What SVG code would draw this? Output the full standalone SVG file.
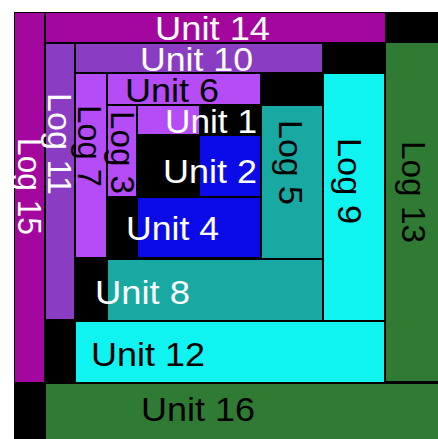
<svg xmlns="http://www.w3.org/2000/svg" width="438" height="439" viewBox="0 0 438 439">
<style>
text{font-family:"Liberation Sans",Arial,sans-serif;font-size:33px;lengthAdjust:spacingAndGlyphs}
.w{fill:#ffffff}.k{fill:#000000}
.mag{fill:#a4079e}.pur{fill:#8a3dc2}.lpu{fill:#b54cf7}.blu{fill:#0b0bea}.tea{fill:#17a9a2}.cya{fill:#0ff4f1}.gre{fill:#2f7b34}
</style>
<rect x="0" y="0" width="438" height="439" fill="#ffffff"/>
<rect x="14" y="12" width="424" height="427" fill="#000000"/>
<g id="log15"><rect class="mag" x="15" y="13" width="29" height="369"/><text class="w" transform="translate(18,0) rotate(90)" x="138" y="0" textLength="97" lengthAdjust="spacingAndGlyphs">Log 15</text></g>
<g id="unit14"><rect class="mag" x="46" y="13" width="339" height="29"/><text class="w" x="155" y="40" textLength="115" lengthAdjust="spacingAndGlyphs">Unit 14</text></g>
<g id="log13"><rect class="gre" x="386" y="43" width="52" height="338"/><text class="k" transform="translate(402,0) rotate(90)" x="141" y="0" textLength="102" lengthAdjust="spacingAndGlyphs">Log 13</text></g>
<g id="unit16"><rect class="gre" x="46" y="384" width="392" height="55"/><text class="k" x="141" y="421" textLength="114" lengthAdjust="spacingAndGlyphs">Unit 16</text></g>
<g id="log11"><rect class="pur" x="46" y="44" width="28" height="275"/><text class="w" transform="translate(48,0) rotate(90)" x="93" y="0" textLength="102" lengthAdjust="spacingAndGlyphs">Log 11</text></g>
<g id="unit10"><rect class="pur" x="76" y="44" width="246" height="28"/><text class="w" x="140" y="71" textLength="113" lengthAdjust="spacingAndGlyphs">Unit 10</text></g>
<g id="log9"><rect class="cya" x="324" y="74" width="60" height="246"/><text class="k" transform="translate(338,0) rotate(90)" x="138" y="0" textLength="86" lengthAdjust="spacingAndGlyphs">Log 9</text></g>
<g id="unit12"><rect class="cya" x="76" y="322" width="308" height="60"/><text class="k" x="91" y="366" textLength="114" lengthAdjust="spacingAndGlyphs">Unit 12</text></g>
<g id="log7"><rect class="lpu" x="76" y="74" width="30" height="183"/><text class="k" transform="translate(78,0) rotate(90)" x="105" y="0" textLength="82" lengthAdjust="spacingAndGlyphs">Log 7</text></g>
<g id="unit6"><rect class="lpu" x="108" y="74" width="152" height="30"/><text class="k" x="125" y="102" textLength="94" lengthAdjust="spacingAndGlyphs">Unit 6</text></g>
<g id="log5"><rect class="tea" x="262" y="106" width="60" height="152"/><text class="k" transform="translate(279,0) rotate(90)" x="120" y="0" textLength="85" lengthAdjust="spacingAndGlyphs">Log 5</text></g>
<g id="unit8"><rect class="tea" x="108" y="260" width="214" height="60"/><text class="w" x="95" y="304" textLength="95" lengthAdjust="spacingAndGlyphs">Unit 8</text></g>
<g id="log3"><rect class="lpu" x="108" y="106" width="28" height="90"/><text class="k" transform="translate(111,0) rotate(90)" x="111" y="0" textLength="83" lengthAdjust="spacingAndGlyphs">Log 3</text></g>
<g id="unit1"><rect class="lpu" x="138" y="106" width="61" height="28"/><text class="w" x="165" y="133" textLength="92" lengthAdjust="spacingAndGlyphs">Unit 1</text></g>
<g id="unit2"><rect class="blu" x="200" y="136" width="60" height="60"/><text class="w" x="163" y="183" textLength="94" lengthAdjust="spacingAndGlyphs">Unit 2</text></g>
<g id="unit4"><rect class="blu" x="138" y="198" width="122" height="59"/><text class="w" x="126" y="240" textLength="93" lengthAdjust="spacingAndGlyphs">Unit 4</text></g>
<g id="connectors"></g>
</svg>
